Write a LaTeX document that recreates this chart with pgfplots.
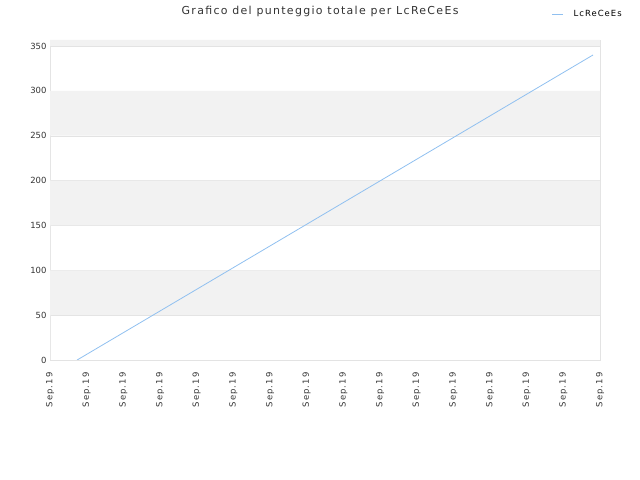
\documentclass[border=0pt]{standalone}
\usepackage{pgfplots}
\pgfplotsset{compat=1.18}
\usepackage{fontspec}
\setmainfont{DejaVu Sans}
\newfontfamily\spaced[LetterSpace=12]{DejaVu Sans}
\definecolor{band}{HTML}{F2F2F2}
\definecolor{gridc}{HTML}{E3E3E3}
\definecolor{txt}{HTML}{333333}
\definecolor{lineblue}{HTML}{90C0F0}
\begin{document}
\begin{tikzpicture}[x=1bp,y=1bp]
\path[use as bounding box] (0,0) rectangle (640,480);
\begin{axis}[
  at={(50bp,120bp)}, anchor=south west,
  scale only axis, width=550bp, height=320bp,
  xmin=0, xmax=15, ymin=0, ymax=356.7,
  xtick={0,...,15},
  xticklabels={Sep.19,Sep.19,Sep.19,Sep.19,Sep.19,Sep.19,Sep.19,Sep.19,Sep.19,Sep.19,Sep.19,Sep.19,Sep.19,Sep.19,Sep.19,Sep.19},
  x tick label style={rotate=90, anchor=east, font=\spaced\fontsize{8.5}{10}\selectfont, text=txt, xshift=-9bp},
  ytick={0,50,...,350},
  y tick label style={font=\fontsize{8.5}{10}\selectfont, text=txt},
  /pgf/number format/assume math mode=true,
  major tick length=0pt,
  axis line style={gridc},
  ymajorgrids, major grid style={gridc},
  title={Grafico del punteggio totale per LcReCeEs},
  title style={font=\spaced\fontsize{11}{13}\selectfont, text=txt, at={(0.491,1)}, anchor=south, yshift=14bp},
  legend style={at={(0.912,1.081)}, anchor=west, draw=none, fill=none, font=\spaced\fontsize{8.5}{10}\selectfont, text=black, inner sep=0pt},
  legend image code/.code={\draw[#1] (0bp,0bp) -- (11bp,0bp);},
]
\addplot[fill=band, draw=none, forget plot] coordinates {(0,50) (15,50) (15,100) (0,100)} \closedcycle;
\addplot[fill=band, draw=none, forget plot] coordinates {(0,150) (15,150) (15,200) (0,200)} \closedcycle;
\addplot[fill=band, draw=none, forget plot] coordinates {(0,250) (15,250) (15,300) (0,300)} \closedcycle;
\addplot[fill=band, draw=none, forget plot] coordinates {(0,350) (15,350) (15,356.7) (0,356.7)} \closedcycle;
\addplot[lineblue, line width=0.8bp] coordinates {(0.74,0) (14.81,340)};
\addlegendentry{\hspace{8bp}LcReCeEs}
\end{axis}
\end{tikzpicture}
\end{document}
